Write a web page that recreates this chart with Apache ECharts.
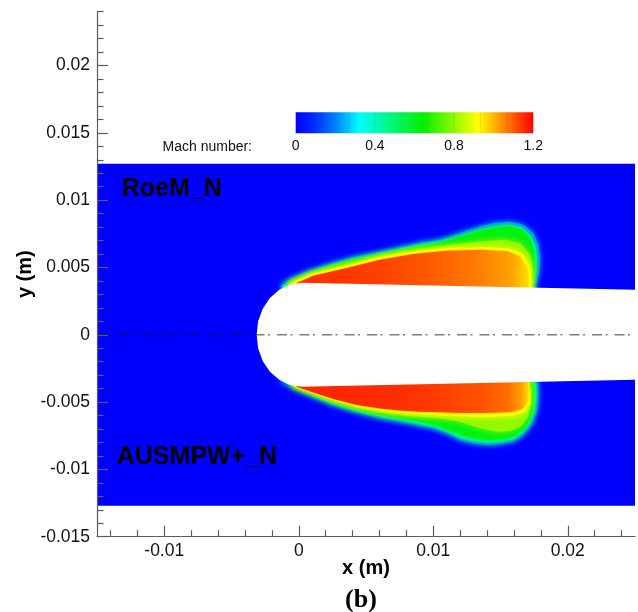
<!DOCTYPE html>
<html>
<head>
<meta charset="utf-8">
<script src="https://cdn.jsdelivr.net/npm/echarts@6/dist/echarts.min.js"></script>
<style>
  html, body { margin: 0; padding: 0; background: #fff; }
  #chart { width: 638px; height: 612px; }
</style>
</head>
<body>
<div id="chart"></div>
<script>
// ---------- axes (m) ----------
const xMajorTicks = [-0.01, 0, 0.01, 0.02];
const xMinorTicks = [-0.014, -0.012, -0.008, -0.006, -0.004, -0.002, 0.002, 0.004, 0.006, 0.008,
                     0.012, 0.014, 0.016, 0.018, 0.022, 0.024];
const yMajorTicks = [-0.015, -0.01, -0.005, 0, 0.005, 0.01, 0.015, 0.02];
const yMinorTicks = [-0.014, -0.013, -0.012, -0.011, -0.009, -0.008, -0.007, -0.006, -0.004, -0.003,
                     -0.002, -0.001, 0.001, 0.002, 0.003, 0.004, 0.006, 0.007, 0.008, 0.009,
                     0.011, 0.012, 0.013, 0.014, 0.016, 0.017, 0.018, 0.019, 0.021, 0.022, 0.023, 0.024];
const xRange = [-0.015, 0.025];
const yRange = [-0.015, 0.024];

// ---------- colour legend ----------
const colorbarTicks = [0, 0.4, 0.8, 1.2];
const colorbarBandEdges = [0.1333, 0.2667, 0.4, 0.5333, 0.6667, 0.8, 0.9333, 1.0667];
const cmapMach = [0, 0.1, 0.2, 0.32, 0.64, 0.92, 1.2];
const cmapRGB = [[0, 0, 255], [0, 48, 255], [0, 128, 255], [0, 255, 255], [0, 240, 0], [255, 255, 0], [255, 0, 0]];

// ---------- computational domain (m) ----------
const domainX = [-0.015, 0.025];
const domainY = [-0.0127, 0.0127];
const ambientMach = 0.0;
const centerlineX = [-0.015, 0.025];
const centerlineY = [0, 0];

// ---------- body outline (mm) ----------
const bodyX = [25.0, 0.22, -0.65, -1.45, -2.15, -2.68, -3.02, -3.13, -3.02, -2.68, -2.15, -1.45, -0.65, 0.22, 25.0];
const bodyY = [3.35, 3.87, 3.74, 3.35, 2.74, 1.94, 1.01, 0.0, -1.01, -1.94, -2.74, -3.35, -3.74, -3.87, -3.35];

// ---------- Mach contours, upper half: RoeM_N (mm) ----------
const upperM020X = [-1.39, -0.65, 0.59, 2.32, 4.06, 6.04, 7.53, 9.01, 10.50, 11.49, 12.49, 13.48, 14.47, 15.71, 16.70, 17.44, 17.81, 17.94, 17.89, 17.69, 17.57, 17.57, -1.0];
const upperM020Y = [3.60, 4.09, 4.67, 5.26, 5.75, 6.15, 6.49, 6.82, 7.06, 7.38, 7.73, 8.05, 8.30, 8.42, 8.18, 7.56, 6.69, 5.70, 4.71, 3.97, 3.60, 3.0, 3.0];
const upperM042X = [-1.25, -0.54, 0.65, 2.36, 4.07, 6.04, 7.53, 9.01, 10.50, 11.61, 12.57, 13.54, 14.52, 15.71, 16.56, 17.23, 17.60, 17.71, 17.68, 17.53, 17.42, 17.42, -0.9];
const upperM042Y = [3.60, 4.02, 4.55, 5.13, 5.63, 6.02, 6.37, 6.69, 6.94, 7.24, 7.55, 7.84, 8.07, 8.18, 7.96, 7.40, 6.62, 5.70, 4.71, 3.97, 3.60, 3.0, 3.0];
const upperM062X = [-0.90, 0.59, 2.32, 4.06, 6.04, 7.53, 9.01, 10.50, 11.99, 13.48, 14.72, 15.71, 16.58, 17.19, 17.49, 17.57, 17.44, 17.32, 17.32, -0.8];
const upperM062Y = [3.85, 4.46, 5.06, 5.56, 5.95, 6.27, 6.57, 6.82, 7.29, 7.73, 7.98, 8.05, 7.81, 7.19, 6.20, 4.96, 4.09, 3.60, 3.0, 3.0];
const upperM080X = [-0.80, 0.84, 3.57, 6.04, 8.52, 11.00, 13.48, 15.33, 16.45, 17.19, 17.42, 17.38, 17.38, -0.7];
const upperM080Y = [3.80, 4.54, 5.26, 5.88, 6.34, 6.64, 6.92, 7.06, 6.82, 5.95, 4.84, 3.57, 3.0, 3.0];
const upperM092X = [-0.65, 1.08, 3.57, 6.04, 8.52, 11.00, 13.48, 15.56, 16.67, 17.19, 17.31, 17.29, 17.29, -0.6];
const upperM092Y = [3.82, 4.56, 5.16, 5.75, 6.20, 6.45, 6.52, 6.42, 6.02, 5.06, 3.97, 3.54, 3.0, 3.0];
const upperCoreX = [-0.15, 1.08, 3.57, 6.04, 8.52, 11.00, 13.48, 15.46, 16.45, 16.95, 17.07, 17.07, 17.07, -0.5];
const upperCoreY = [3.85, 4.39, 4.96, 5.58, 6.00, 6.25, 6.32, 6.20, 5.82, 4.96, 3.97, 3.54, 3.0, 3.0];
const upperCoreStationX = [1.1, 6.0, 9.8, 13.5, 15.9, 17.0];
const upperCoreStationMach = [1.15, 1.13, 1.10, 1.06, 1.02, 0.96];

// ---------- Mach contours, lower half: AUSMPW+_N (mm) ----------
const lowerM020X = [-1.39, -0.41, 1.08, 2.57, 4.31, 6.04, 7.53, 9.01, 10.00, 11.00, 11.99, 12.98, 13.97, 14.96, 15.95, 16.70, 17.32, 17.69, 17.81, 17.81, 17.69, 17.69, -1.0];
const lowerM020Y = [-3.36, -3.86, -4.60, -5.21, -5.76, -6.21, -6.46, -6.75, -6.95, -7.32, -7.81, -8.07, -8.19, -8.14, -7.94, -7.44, -6.70, -5.71, -4.72, -3.73, -3.48, -3.0, -3.0];
const lowerM042X = [-1.28, -0.35, 1.08, 2.57, 4.31, 6.04, 7.53, 9.01, 10.00, 11.00, 11.99, 12.98, 13.97, 14.96, 15.95, 16.60, 17.19, 17.55, 17.66, 17.66, 17.54, 17.54, -0.9];
const lowerM042Y = [-3.45, -3.80, -4.49, -5.10, -5.65, -6.08, -6.33, -6.63, -6.83, -7.18, -7.67, -7.90, -8.02, -7.96, -7.77, -7.31, -6.60, -5.68, -4.72, -3.73, -3.50, -3.0, -3.0];
const lowerM062X = [-0.65, 1.08, 2.57, 4.31, 6.04, 7.53, 9.01, 10.26, 11.49, 12.49, 13.48, 14.47, 15.46, 16.20, 16.95, 17.39, 17.49, 17.44, 17.32, 17.32, -0.6];
const lowerM062Y = [-3.78, -4.42, -5.01, -5.55, -5.96, -6.21, -6.46, -6.70, -7.20, -7.57, -7.77, -7.82, -7.70, -7.44, -6.82, -5.71, -4.72, -3.73, -3.54, -3.0, -3.0];
const lowerM080X = [-0.52, 1.08, 2.57, 4.31, 6.04, 7.53, 9.01, 10.50, 11.99, 13.48, 14.72, 15.71, 16.45, 16.99, 17.25, 17.25, 17.14, 17.14, -0.5];
const lowerM080Y = [-3.78, -4.38, -4.92, -5.42, -5.76, -5.96, -6.11, -6.21, -6.46, -6.95, -7.20, -7.15, -6.83, -6.21, -5.21, -4.23, -3.61, -3.0, -3.0];
const lowerM092X = [-0.35, 1.08, 2.57, 4.31, 6.04, 7.53, 9.01, 10.50, 11.99, 13.48, 14.72, 15.95, 16.82, 17.16, 17.19, 17.10, 17.10, -0.4];
const lowerM092Y = [-3.84, -4.33, -4.85, -5.33, -5.62, -5.79, -5.91, -5.99, -6.06, -6.11, -6.08, -6.01, -5.71, -5.12, -4.23, -3.60, -3.0, -3.0];
const lowerCoreX = [-0.15, 1.08, 2.57, 4.31, 6.04, 7.53, 9.01, 10.50, 11.99, 13.48, 14.72, 15.95, 16.70, 16.97, 17.07, 17.01, 17.01, -0.3];
const lowerCoreY = [-3.86, -4.28, -4.77, -5.21, -5.47, -5.62, -5.71, -5.76, -5.81, -5.81, -5.79, -5.71, -5.47, -4.97, -4.23, -3.61, -3.0, -3.0];
const lowerCoreStationX = [1.1, 7.5, 11.0, 13.5, 15.5, 16.5, 17.0];
const lowerCoreStationMach = [1.16, 1.15, 1.13, 1.11, 1.08, 1.03, 0.97];

// ---------- helpers ----------
function machColor(m) {
  if (m <= cmapMach[0]) return rgb(cmapRGB[0]);
  for (let i = 1; i < cmapMach.length; i++) {
    if (m <= cmapMach[i]) {
      const t = (m - cmapMach[i - 1]) / (cmapMach[i] - cmapMach[i - 1]);
      const a = cmapRGB[i - 1], b = cmapRGB[i];
      return rgb([a[0] + (b[0] - a[0]) * t, a[1] + (b[1] - a[1]) * t, a[2] + (b[2] - a[2]) * t]);
    }
  }
  return rgb(cmapRGB[cmapRGB.length - 1]);
}
function rgb(c) { return 'rgb(' + c.map(v => Math.round(v)).join(',') + ')'; }

// filled bands, outermost first; core bands carry a streamwise Mach distribution
const contours = [
  { mach: 0.20, x: upperM020X, y: upperM020Y },
  { mach: 0.42, x: upperM042X, y: upperM042Y },
  { mach: 0.62, x: upperM062X, y: upperM062Y },
  { mach: 0.80, x: upperM080X, y: upperM080Y },
  { mach: 0.92, x: upperM092X, y: upperM092Y },
  { mach: 1.10, x: upperCoreX, y: upperCoreY, sx: upperCoreStationX, sm: upperCoreStationMach },
  { mach: 0.20, x: lowerM020X, y: lowerM020Y },
  { mach: 0.42, x: lowerM042X, y: lowerM042Y },
  { mach: 0.62, x: lowerM062X, y: lowerM062Y },
  { mach: 0.80, x: lowerM080X, y: lowerM080Y },
  { mach: 0.92, x: lowerM092X, y: lowerM092Y },
  { mach: 1.12, x: lowerCoreX, y: lowerCoreY, sx: lowerCoreStationX, sm: lowerCoreStationMach }
];

const SANS = '"Liberation Sans", Arial, Helvetica, sans-serif';
const AXIS_COLOR = '#5c5c5c';

const chart = echarts.init(document.getElementById('chart'), null, { renderer: 'canvas' });

const mainXAxis = {
  type: 'value', gridIndex: 0, position: 'bottom', min: xRange[0], max: xRange[1], z: 10,
  axisLine: { show: true, onZero: false, lineStyle: { color: AXIS_COLOR, width: 1.2 } },
  axisTick: { show: true, inside: true, length: 11, customValues: xMajorTicks, lineStyle: { color: AXIS_COLOR, width: 1.2 } },
  axisLabel: { customValues: xMajorTicks, fontSize: 17.5, fontFamily: SANS, color: '#111', margin: 5, formatter: v => String(v) },
  splitLine: { show: false },
  name: 'x (m)', nameLocation: 'middle', nameGap: 22, nameMoveOverlap: false,
  nameTextStyle: { fontWeight: 'bold', fontSize: 20, fontFamily: SANS, color: '#000' }
};
const minorXAxis = {
  type: 'value', gridIndex: 0, position: 'bottom', min: xRange[0], max: xRange[1], z: 10,
  axisLine: { show: false, onZero: false },
  axisTick: { show: true, inside: true, length: 6.5, customValues: xMinorTicks, lineStyle: { color: AXIS_COLOR, width: 1.2 } },
  axisLabel: { show: false }, splitLine: { show: false }
};
const mainYAxis = {
  type: 'value', gridIndex: 0, position: 'left', min: yRange[0], max: yRange[1], z: 10,
  axisLine: { show: true, onZero: false, lineStyle: { color: AXIS_COLOR, width: 1.2 } },
  axisTick: { show: true, inside: true, length: 11, customValues: yMajorTicks, lineStyle: { color: AXIS_COLOR, width: 1.2 } },
  axisLabel: { customValues: yMajorTicks, fontSize: 17.5, fontFamily: SANS, color: '#111', margin: 7, formatter: v => String(v) },
  splitLine: { show: false },
  name: 'y (m)', nameLocation: 'middle', nameGap: 62, nameMoveOverlap: false,
  nameTextStyle: { fontWeight: 'bold', fontSize: 20, fontFamily: SANS, color: '#000' }
};
const minorYAxis = {
  type: 'value', gridIndex: 0, position: 'left', min: yRange[0], max: yRange[1], z: 10,
  axisLine: { show: false, onZero: false },
  axisTick: { show: true, inside: true, length: 6.5, customValues: yMinorTicks, lineStyle: { color: AXIS_COLOR, width: 1.2 } },
  axisLabel: { show: false }, splitLine: { show: false }
};

const option = {
  animation: false,
  backgroundColor: '#fff',
  grid: [
    { left: 97, right: 3, top: 11.7, bottom: 75.3 },
    { left: 295.7, right: 104.7, top: 112.3, height: 21 }
  ],
  xAxis: [
    mainXAxis, minorXAxis,
    { type: 'value', gridIndex: 1, position: 'bottom', min: 0, max: 1.2,
      axisLine: { show: false }, axisTick: { show: false }, splitLine: { show: false },
      axisLabel: { customValues: colorbarTicks, fontSize: 14, fontFamily: SANS, color: '#111', margin: 6, formatter: v => String(v) } }
  ],
  yAxis: [
    mainYAxis, minorYAxis,
    { type: 'value', gridIndex: 1, min: 0, max: 1, show: false }
  ],
  graphic: [
    { type: 'text', x: 252, y: 146.7, silent: true,
      style: { text: 'Mach number:', font: '14px ' + SANS, fill: '#111', textAlign: 'right', textVerticalAlign: 'middle' } },
    { type: 'text', x: 121.7, y: 189.5, z: 20, silent: true,
      style: { text: 'RoeM_N', font: 'bold 25px ' + SANS, fill: '#000', textAlign: 'left', textVerticalAlign: 'middle' } },
    { type: 'text', x: 116.7, y: 457.5, z: 20, silent: true,
      style: { text: 'AUSMPW+_N', font: 'bold 25px ' + SANS, fill: '#000', textAlign: 'left', textVerticalAlign: 'middle' } },
    { type: 'text', x: 361, y: 600, silent: true,
      style: { text: '(b)', font: 'bold 26px "Liberation Serif", "Times New Roman", serif', fill: '#000', textAlign: 'center', textVerticalAlign: 'middle' } }
  ],
  series: [
    // quiescent surroundings
    {
      type: 'custom', name: 'domain', xAxisIndex: 0, yAxisIndex: 0, z: 1, silent: true,
      data: [[domainX[0], domainY[0], domainX[1], domainY[1], ambientMach]],
      renderItem: (params, api) => {
        const p0 = api.coord([api.value(0), api.value(1)]);
        const p1 = api.coord([api.value(2), api.value(3)]);
        return { type: 'rect', shape: { x: p0[0], y: p1[1], width: p1[0] - p0[0], height: p0[1] - p1[1] },
                 style: { fill: machColor(api.value(4)) } };
      }
    },
    // Mach number flood
    {
      type: 'custom', name: 'Mach number', xAxisIndex: 0, yAxisIndex: 0, z: 2, silent: true,
      data: contours.map((c, i) => [c.x[0] / 1000, c.y[0] / 1000, i]),
      encode: { x: 0, y: 1 },
      renderItem: (params, api) => {
        const c = contours[api.value(2)];
        const pts = c.x.map((x, k) => api.coord([x / 1000, c.y[k] / 1000]));
        let fill = machColor(c.mach);
        let shadow = fill, blur = 6;
        if (c.sx) {
          const xa = api.coord([c.sx[0] / 1000, 0])[0];
          const xb = api.coord([c.sx[c.sx.length - 1] / 1000, 0])[0];
          const stops = c.sx.map((sx, k) => ({
            offset: (api.coord([sx / 1000, 0])[0] - xa) / (xb - xa),
            color: machColor(c.sm[k])
          }));
          fill = new echarts.graphic.LinearGradient(xa, 0, xb, 0, stops, true);
          shadow = machColor(0.98);
          blur = 3;
        }
        return { type: 'polygon', shape: { points: pts },
                 style: { fill: fill, shadowBlur: blur, shadowColor: shadow } };
      }
    },
    // body
    {
      type: 'custom', name: 'body', xAxisIndex: 0, yAxisIndex: 0, z: 3, silent: true,
      data: [[bodyX[0] / 1000, bodyY[0] / 1000]],
      renderItem: (params, api) => {
        const pts = bodyX.map((x, k) => api.coord([x / 1000, bodyY[k] / 1000]));
        return { type: 'polygon', shape: { points: pts }, style: { fill: '#fff' } };
      }
    },
    // symmetry axis
    {
      type: 'line', name: 'axis', xAxisIndex: 0, yAxisIndex: 0, z: 4, silent: true,
      data: centerlineX.map((x, k) => [x, centerlineY[k]]),
      symbol: 'none',
      lineStyle: { color: 'rgba(20,20,20,0.55)', width: 1.4, type: [10, 3.5, 2, 7] }
    },
    // colour legend bar
    {
      type: 'custom', name: 'legend', xAxisIndex: 2, yAxisIndex: 2, silent: true,
      data: [[colorbarTicks[0], colorbarTicks[colorbarTicks.length - 1]]],
      renderItem: (params, api) => {
        const lo = api.value(0), hi = api.value(1);
        const p0 = api.coord([lo, 0]);
        const p1 = api.coord([hi, 1]);
        const stops = cmapMach.map((m, k) => ({ offset: (m - lo) / (hi - lo), color: rgb(cmapRGB[k]) }));
        const children = [{
          type: 'rect', shape: { x: p0[0], y: p1[1], width: p1[0] - p0[0], height: p0[1] - p1[1] },
          style: { fill: new echarts.graphic.LinearGradient(0, 0, 1, 0, stops) }
        }];
        colorbarBandEdges.forEach(e => {
          const xe = api.coord([e, 0])[0];
          children.push({ type: 'line', shape: { x1: xe, y1: p1[1], x2: xe, y2: p0[1] },
                          style: { stroke: 'rgba(0,0,0,0.07)', lineWidth: 1 } });
        });
        return { type: 'group', children: children };
      }
    }
  ]
};

chart.setOption(option);
</script>
</body>
</html>
